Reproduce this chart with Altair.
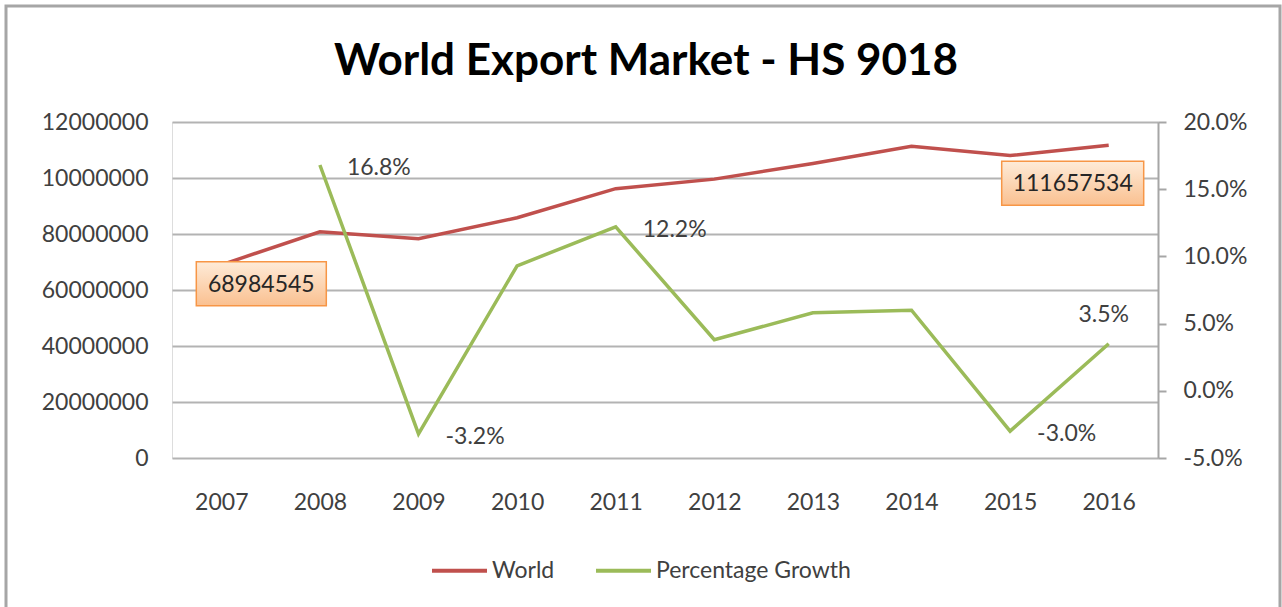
import altair as alt
import pandas as pd

years = ["2007", "2008", "2009", "2010", "2011", "2012", "2013", "2014", "2015", "2016"]
world = [68984545, 80800000, 78300000, 85800000, 96200000, 99600000, 105200000, 111300000, 108000000, 111657534]
growth = [None, 0.168, -0.032, 0.093, 0.122, 0.038, 0.058, 0.060, -0.030, 0.035]

growth_label_right_years = ["2008", "2009", "2011", "2015"]
growth_label_above_years = ["2016"]
world_label_years = ["2007", "2016"]

left_tick_values = [0, 20000000, 40000000, 60000000, 80000000, 100000000, 120000000]
left_tick_labels = ["0", "20000000", "40000000", "60000000", "80000000", "10000000", "12000000"]
right_tick_values = [-0.05, 0.0, 0.05, 0.10, 0.15, 0.20]

series_names = ["World", "Percentage Growth"]
series_colors = ["#C0504D", "#9BBB59"]

df = pd.DataFrame({"year": years, "world": world, "growth": growth})
df["world_label"] = df["world"].astype(int).astype(str)
df["growth_label"] = [("" if g is None or pd.isna(g) else f"{g * 100:.1f}%") for g in growth]

FONT = "Lato"
TXT = "#404040"

# label expression for the left axis
expr = "''"
for v, l in reversed(list(zip(left_tick_values, left_tick_labels))):
    expr = f"datum.value == {v} ? '{l}' : ({expr})"

year_scale = alt.Scale(paddingInner=0, paddingOuter=0, domain=years)

x_enc = alt.X("year:N", sort=years, title=None, scale=year_scale,
              axis=alt.Axis(labelAngle=0, ticks=False, domain=False, grid=False,
                            labelPadding=33, labelFontSize=23, labelFont=FONT,
                            labelColor=TXT, labelBaseline="top"))
x_plain = alt.X("year:N", sort=years, title=None, scale=year_scale)

y_left_scale = alt.Scale(domain=[0, 120000000], nice=False, zero=True)
y_right_scale = alt.Scale(domain=[-0.05, 0.20], nice=False, zero=False)

color_enc = alt.Color("series:N", scale=alt.Scale(domain=series_names, range=series_colors),
                      legend=alt.Legend(title=None, orient="none", direction="horizontal",
                                        legendX=258, legendY=419,
                                        symbolType="stroke", symbolSize=3025,
                                        symbolStrokeWidth=4, labelFontSize=23,
                                        labelFont=FONT, labelColor=TXT, labelOffset=3,
                                        labelLimit=400, columnPadding=33))

base = alt.Chart(df)

world_line = base.transform_calculate(series="'World'").mark_line(strokeWidth=3.5).encode(
    x=x_enc,
    y=alt.Y("world:Q", scale=y_left_scale, title=None,
            axis=alt.Axis(values=left_tick_values, labelExpr=expr, orient="left",
                          grid=True, gridColor="#B3B3B3", gridWidth=2,
                          ticks=False, domain=False, labelPadding=24,
                          labelFontSize=23, labelFont=FONT, labelColor=TXT)),
    color=color_enc,
)

growth_line = base.transform_calculate(series="'Percentage Growth'").mark_line(strokeWidth=3.5).encode(
    x=x_plain,
    y=alt.Y("growth:Q", scale=y_right_scale, title=None,
            axis=alt.Axis(values=right_tick_values, format=".1%", orient="right",
                          labelExpr="replace(datum.label, '\u2212', '-')",
                          grid=False, domain=True, domainColor="#A6A6A6", domainWidth=2,
                          ticks=True, tickColor="#A6A6A6", tickWidth=2, tickSize=8,
                          labelPadding=17, labelFontSize=23, labelFont=FONT,
                          labelColor=TXT)),
    color=color_enc,
)

growth_lbl_right = base.transform_filter(
    alt.FieldOneOfPredicate(field="year", oneOf=growth_label_right_years)
).mark_text(align="left", baseline="middle", dx=27, dy=3, fontSize=23, font=FONT, color=TXT).encode(
    x=x_plain,
    y=alt.Y("growth:Q", scale=y_right_scale, title=None),
    text="growth_label:N",
)
growth_lbl_above = base.transform_filter(
    alt.FieldOneOfPredicate(field="year", oneOf=growth_label_above_years)
).mark_text(align="center", baseline="middle", dx=-5, dy=-29, fontSize=23, font=FONT, color=TXT).encode(
    x=x_plain,
    y=alt.Y("growth:Q", scale=y_right_scale, title=None),
    text="growth_label:N",
)

grad = alt.Gradient(gradient="linear", x1=0, x2=0, y1=0, y2=1,
                    stops=[alt.GradientStop(color="#FEEBD8", offset=0),
                           alt.GradientStop(color="#FAC090", offset=1)])


def box_path(w, h):
    r = w / 2.0
    k = (h / 2.0) / r
    return f"M-1,{-k:.4f}L1,{-k:.4f}L1,{k:.4f}L-1,{k:.4f}Z"


callout_layers = []
box_specs = [("2007", 130, 44, 40, 19), ("2016", 142, 44, -36, 38)]
for yr, w, h, ox, oy in box_specs:
    sub = base.transform_filter(alt.datum.year == yr)
    box = sub.mark_point(shape=box_path(w, h), size=w * w, filled=True, fill=grad,
                         stroke="#F79646", strokeWidth=1.5, opacity=1).encode(
        x=x_plain,
        y=alt.Y("world:Q", scale=y_left_scale, title=None),
        xOffset=alt.value(ox), yOffset=alt.value(oy),
    )
    txt = sub.mark_text(align="center", baseline="middle", dx=ox, dy=oy + 1,
                        fontSize=23, font=FONT, color="#262626").encode(
        x=x_plain,
        y=alt.Y("world:Q", scale=y_left_scale, title=None),
        text="world_label:N",
    )
    callout_layers.append(box)
    callout_layers.append(txt)

frame = alt.Chart(alt.Data(values=[{}])).mark_rect(
    fill="transparent", stroke="#A6A6A6", strokeWidth=3
).encode(x=alt.value(-166), x2=alt.value(1108), y=alt.value(-116), y2=alt.value(520))

left_layer = alt.layer(world_line, *callout_layers)
right_layer = alt.layer(growth_line, growth_lbl_right, growth_lbl_above)

chart = alt.layer(frame, left_layer, right_layer).resolve_scale(
    y="independent"
).properties(
    width=986, height=336,
    autosize=alt.AutoSizeParams(type="none"),
    padding={"left": 172, "top": 122, "right": 124, "bottom": 149},
    title=alt.TitleParams("World Export Market - HS 9018", font=FONT, fontSize=44,
                          fontWeight="bold", color="#000000", anchor="middle",
                          frame="group", dx=-19, offset=-114, baseline="alphabetic"),
).configure_view(strokeWidth=0).configure(background="white")

chart.save("out.html", embed_options={"renderer": "svg", "actions": False})
